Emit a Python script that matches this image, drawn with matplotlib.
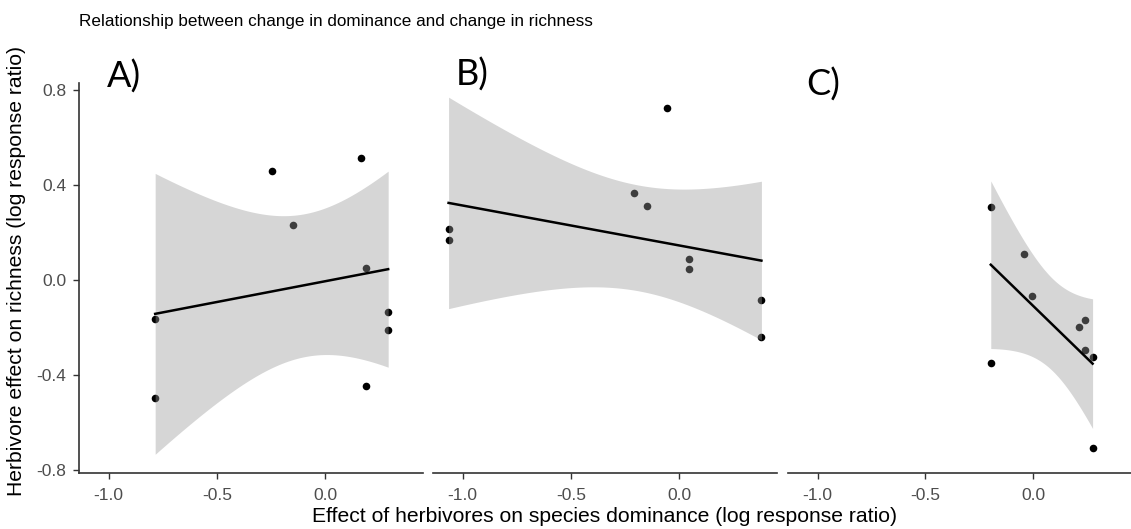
import numpy as np
import matplotlib
matplotlib.use("Agg")
import matplotlib.pyplot as plt

# ---- data ----
panel_labels = ["A)", "B)", "C)"]

a_x = [-0.785, -0.785, -0.245, -0.148, 0.167, 0.19, 0.292, 0.292, 0.19]
a_y = [-0.162, -0.498, 0.461, 0.234, 0.514, 0.053, -0.133, -0.212, -0.446]

b_x = [-1.065, -1.065, -0.206, -0.146, -0.055, 0.046, 0.046, 0.381, 0.381]
b_y = [0.216, 0.168, 0.366, 0.313, 0.725, 0.089, 0.047, -0.085, -0.241]

c_x = [-0.197, -0.197, -0.043, -0.005, 0.212, 0.24, 0.24, 0.275, 0.275]
c_y = [0.307, -0.348, 0.109, -0.066, -0.198, -0.166, -0.294, -0.323, -0.708]

x_ticks = [-1.0, -0.5, 0.0]
y_ticks = [-0.8, -0.4, 0.0, 0.4, 0.8]

title = "Relationship between change in dominance and change in richness"
xlabel = "Effect of herbivores on species dominance (log response ratio)"
ylabel = "Herbivore effect on richness (log response ratio)"

# t quantiles (0.975) by residual degrees of freedom
T975 = {5: 2.570582, 6: 2.446912, 7: 2.364624, 8: 2.306004, 9: 2.262157, 10: 2.228139}

W, H, DPI = 1131, 529, 100
fig = plt.figure(figsize=(W / DPI, H / DPI), dpi=DPI)
fig.patch.set_facecolor("white")

FONT = "Liberation Sans"
TICK_COL = "#4D4D4D"

bottom_px, top_px = 472.5, 83
ax_bottom = (H - bottom_px) / H
ax_height = (bottom_px - top_px) / H
panels_px = [(79, 423), (433, 777), (788, 1131)]

xlim = (-1.137, 0.453)
ylim = (-0.81, 0.83)

data = [(a_x, a_y), (b_x, b_y), (c_x, c_y)]
label_pos = [(107, 88), (456, 86), (806, 96)]

for i, ((x0, x1), (xs, ys)) in enumerate(zip(panels_px, data)):
    ax = fig.add_axes([x0 / W, ax_bottom, (x1 - x0) / W, ax_height])
    ax.set_xlim(*xlim)
    ax.set_ylim(*ylim)
    ax.set_facecolor("none")
    for s in ["top", "right"]:
        ax.spines[s].set_visible(False)
    ax.spines["bottom"].set_color("#333333")
    ax.spines["bottom"].set_linewidth(1.2)
    if i == 0:
        ax.spines["left"].set_color("#333333")
        ax.spines["left"].set_linewidth(1.2)
        ax.set_yticks(y_ticks)
        ax.set_yticklabels([f"{v:.1f}" for v in y_ticks], fontsize=12.5,
                           color=TICK_COL, family=FONT)
        ax.tick_params(axis="y", length=4, width=1.0, color="#333333", pad=5)
    else:
        ax.spines["left"].set_visible(False)
        ax.set_yticks([])
    ax.set_xticks(x_ticks)
    ax.set_xticklabels([f"{v:.1f}" for v in x_ticks], fontsize=12.5,
                       color=TICK_COL, family=FONT)
    ax.tick_params(axis="x", length=4, width=1.0, color="#333333", pad=7)

    x = np.array(xs)
    y = np.array(ys)
    n = len(x)
    ax.scatter(x, y, s=30, color="black", zorder=2, linewidths=0)

    # linear model fit with 95% confidence band
    xm, ym = x.mean(), y.mean()
    sxx = ((x - xm) ** 2).sum()
    slope = ((x - xm) * (y - ym)).sum() / sxx
    icpt = ym - slope * xm
    resid = y - (icpt + slope * x)
    s = np.sqrt((resid ** 2).sum() / (n - 2))
    gx = np.linspace(x.min(), x.max(), 80)
    gy = icpt + slope * gx
    se = s * np.sqrt(1.0 / n + (gx - xm) ** 2 / sxx)
    t = T975[n - 2]
    ax.fill_between(gx, gy - t * se, gy + t * se, color="#999999", alpha=0.4,
                    linewidth=0, zorder=3)
    ax.plot(gx, gy, color="black", lw=1.8, zorder=4)

    lx, ly = label_pos[i]
    fig.text(lx / W, 1 - ly / H, panel_labels[i], fontsize=26, family="Lato",
             ha="left", va="baseline")

fig.text(79 / W, 1 - 26 / H, title, fontsize=12.3, family=FONT, ha="left",
         va="baseline")
fig.text(605 / W, 1 - 522 / H, xlabel, fontsize=15.2, family=FONT, ha="center",
         va="baseline")
fig.text(17 / W, 1 - 271 / H, ylabel, fontsize=15.2, family=FONT, ha="center",
         va="center", rotation=90)

fig.savefig("out.png", dpi=DPI, facecolor="white")
